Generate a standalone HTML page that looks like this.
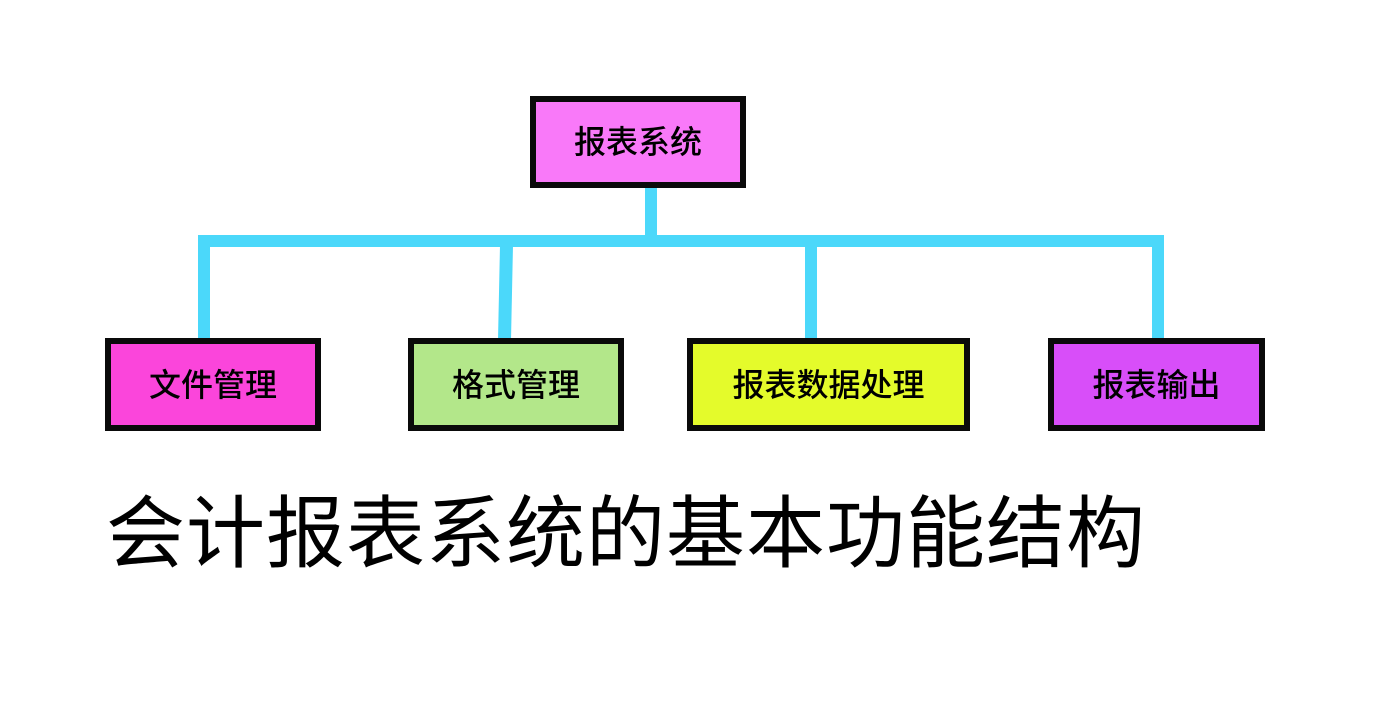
<!DOCTYPE html>
<html><head><meta charset="utf-8"><style>
html,body{margin:0;padding:0;background:#fff;}
body{width:1396px;height:711px;position:relative;overflow:hidden;font-family:"Liberation Sans","Noto Sans CJK SC",sans-serif;}
.b{position:absolute;box-sizing:border-box;border:6px solid #0a0a0a;display:flex;align-items:center;justify-content:center;font-size:32px;color:#000;font-family:"Liberation Sans","Noto Sans CJK SC",sans-serif;font-weight:500;padding-bottom:4px;}
.t{position:absolute;left:106px;top:494px;font-size:79px;letter-spacing:1px;color:#000;line-height:1;white-space:nowrap;}
</style></head><body>
<svg width="1396" height="711" style="position:absolute;left:0;top:0">
<g fill="#4bd8fa">
<rect x="645" y="185" width="12" height="60"/>
<rect x="198" y="235" width="966" height="12"/>
<rect x="198" y="235" width="12" height="105"/>
<polygon points="500,245 513,245 511,340 498,340"/>
<rect x="805" y="235" width="12" height="105"/>
<rect x="1152" y="235" width="12" height="105"/>
</g>
</svg>
<div class="b" style="left:530px;top:96px;width:216px;height:92px;background:#f979f9">报表系统</div>
<div class="b" style="left:105px;top:338px;width:216px;height:93px;background:#fb45db">文件管理</div>
<div class="b" style="left:408px;top:338px;width:216px;height:93px;background:#b3e78a">格式管理</div>
<div class="b" style="left:687px;top:338px;width:283px;height:93px;background:#e4fb2b">报表数据处理</div>
<div class="b" style="left:1048px;top:338px;width:217px;height:93px;background:#d84ef9">报表输出</div>
<div class="t">会计报表系统的基本功能结构</div>
</body></html>
